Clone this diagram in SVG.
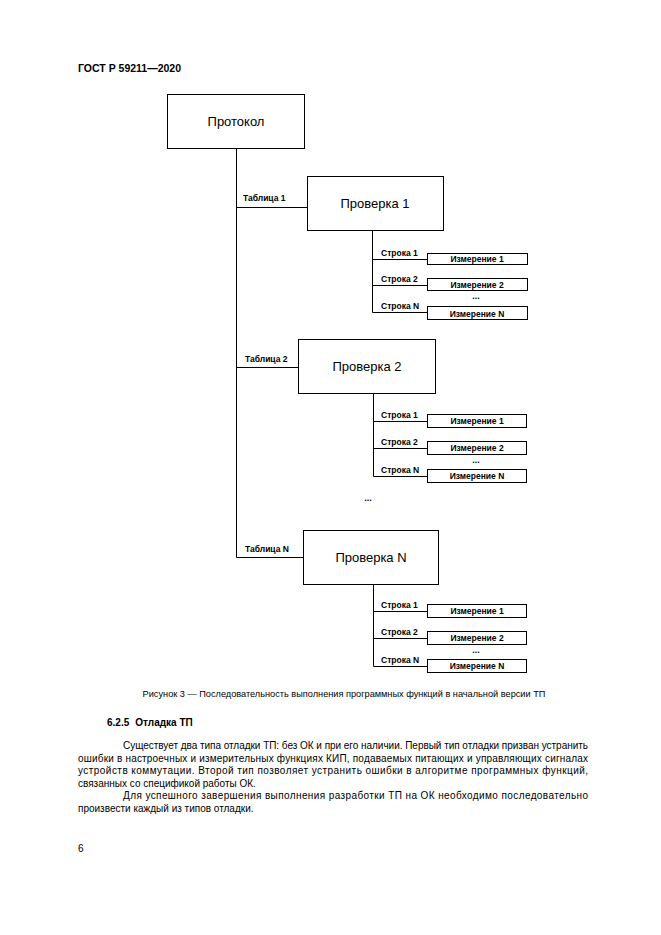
<svg xmlns="http://www.w3.org/2000/svg" width="661" height="935" viewBox="0 0 661 935">
<style>
.bx{fill:#fff;stroke:#000;stroke-width:1}
.ln{fill:none;stroke:#000;stroke-width:1}
text{font-family:"Liberation Sans",Arial,sans-serif;fill:#000}
.big{font-size:13px;text-anchor:middle}
.lbl{font-size:8.5px;font-weight:bold}
.mes{font-size:8.5px;font-weight:bold;text-anchor:middle}
.dots{font-size:9px;font-weight:bold;text-anchor:middle}
.body{font-size:10px}
</style>
<rect width="661" height="935" fill="#fff"/>
<text x="78" y="72" style="font-size:10.5px;font-weight:bold">ГОСТ Р 59211—2020</text>

<g id="connectors">
<path class="ln" d="M236.5 148V557.5M236.5 207.5H307.5M236.5 367.5H298.5M236.5 557.5H303.5"/>
<path class="ln" d="M372.5 231V312.5M372.5 259.5H427M372.5 285.5H427M372.5 312.5H427"/>
<path class="ln" d="M373.5 393V476.5M373.5 421.5H427M373.5 448.5H427M373.5 476.5H427"/>
<path class="ln" d="M373.5 584V666.5M373.5 611.5H427M373.5 638.5H427M373.5 666.5H427"/>
<text class="lbl" x="243" y="201">Таблица 1</text>
<text class="lbl" x="245" y="362">Таблица 2</text>
<text class="lbl" x="245" y="552">Таблица N</text>
<text class="lbl" x="381" y="256">Строка 1</text>
<text class="lbl" x="381" y="282">Строка 2</text>
<text class="lbl" x="381" y="309">Строка N</text>
<text class="lbl" x="381" y="418">Строка 1</text>
<text class="lbl" x="381" y="445">Строка 2</text>
<text class="lbl" x="381" y="473">Строка N</text>
<text class="lbl" x="381" y="608">Строка 1</text>
<text class="lbl" x="381" y="635">Строка 2</text>
<text class="lbl" x="381" y="663">Строка N</text>
</g>

<g id="protocol"><rect class="bx" x="167.5" y="94.5" width="137" height="54"/><text class="big" x="236" y="126">Протокол</text></g>

<g id="check1"><rect class="bx" x="307.5" y="176.5" width="136" height="54"/><text class="big" x="375" y="208">Проверка 1</text></g>
<g id="m1-1"><rect class="bx" x="427.5" y="253.5" width="100" height="11"/><text class="mes" x="477" y="262">Измерение 1</text></g>
<g id="m1-2"><rect class="bx" x="427.5" y="278.5" width="100" height="12"/><text class="mes" x="477" y="288">Измерение 2</text></g>
<text class="dots" x="476" y="299">...</text>
<g id="m1-n"><rect class="bx" x="427.5" y="306.5" width="100" height="13"/><text class="mes" x="477" y="316.5">Измерение N</text></g>

<g id="check2"><rect class="bx" x="298.5" y="339.5" width="137" height="54"/><text class="big" x="367" y="371">Проверка 2</text></g>
<g id="m2-1"><rect class="bx" x="427.5" y="414.5" width="99" height="13"/><text class="mes" x="477" y="424">Измерение 1</text></g>
<g id="m2-2"><rect class="bx" x="427.5" y="441.5" width="99" height="13"/><text class="mes" x="477" y="451">Измерение 2</text></g>
<text class="dots" x="476" y="463">...</text>
<g id="m2-n"><rect class="bx" x="427.5" y="469.5" width="99" height="13"/><text class="mes" x="477" y="479">Измерение N</text></g>
<text class="dots" x="368" y="501">...</text>

<g id="checkN"><rect class="bx" x="303.5" y="530.5" width="135" height="54"/><text class="big" x="371" y="562">Проверка N</text></g>
<g id="mN-1"><rect class="bx" x="427.5" y="604.5" width="99" height="13"/><text class="mes" x="477" y="614">Измерение 1</text></g>
<g id="mN-2"><rect class="bx" x="427.5" y="631.5" width="99" height="13"/><text class="mes" x="477" y="641">Измерение 2</text></g>
<text class="dots" x="476" y="653">...</text>
<g id="mN-n"><rect class="bx" x="427.5" y="659.5" width="99" height="13"/><text class="mes" x="477" y="669">Измерение N</text></g>

<text x="344" y="697" style="font-size:9.2px;text-anchor:middle">Рисунок 3 — Последовательность выполнения программных функций в начальной версии ТП</text>
<text x="107" y="726" style="font-size:10px;font-weight:bold">6.2.5<tspan dx="6">Отладка ТП</tspan></text>
<text class="body" x="123" y="749" textLength="465" lengthAdjust="spacing">Существует два типа отладки ТП: без ОК и при его наличии. Первый тип отладки призван устранить</text>
<text class="body" x="78" y="761.5" textLength="510" lengthAdjust="spacing">ошибки в настроечных и измерительных функциях КИП, подаваемых питающих и управляющих сигналах</text>
<text class="body" x="78" y="774" textLength="510" lengthAdjust="spacing">устройств коммутации. Второй тип позволяет устранить ошибки в алгоритме программных функций,</text>
<text class="body" x="78" y="786.5">связанных со спецификой работы ОК.</text>
<text class="body" x="123" y="799" textLength="465" lengthAdjust="spacing">Для успешного завершения выполнения разработки ТП на ОК необходимо последовательно</text>
<text class="body" x="78" y="811.5">произвести каждый из типов отладки.</text>
<text class="body" x="78" y="852">6</text>
</svg>
